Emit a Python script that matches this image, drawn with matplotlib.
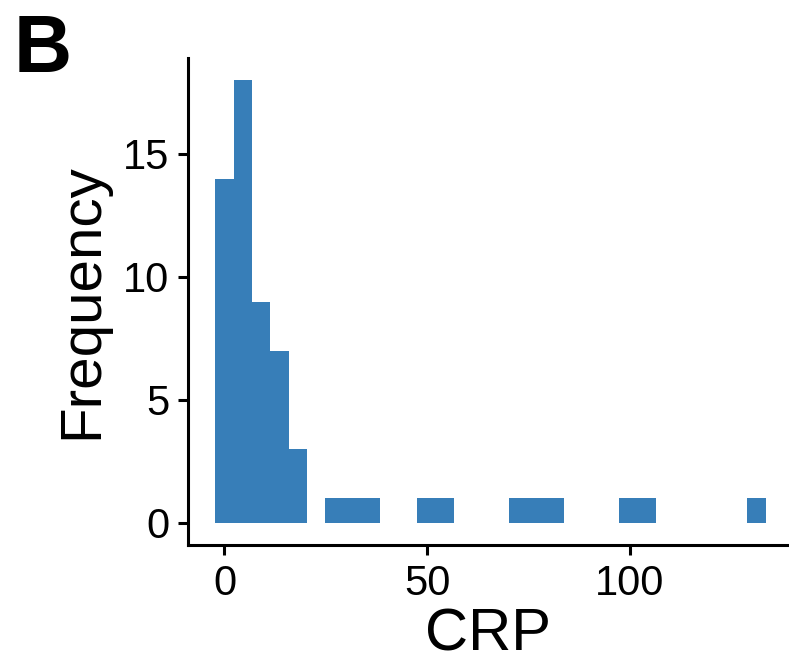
import numpy as np
import matplotlib
matplotlib.use("Agg")
import matplotlib.pyplot as plt

plt.rcParams['font.family'] = ['Liberation Sans', 'DejaVu Sans']

# histogram of CRP, 30 bins (counts per bin)
crp_min, crp_max = 0.0, 131.2
counts = [14, 18, 9, 7, 3, 0, 1, 1, 1, 0,
          0, 1, 1, 0, 0, 0, 1, 1, 1, 0,
          0, 0, 1, 1, 0, 0, 0, 0, 0, 1]
x_ticks = [0, 50, 100]
y_ticks = [0, 5, 10, 15]

n_bins = len(counts)
bw = (crp_max - crp_min) / (n_bins - 1)
edges = crp_min - bw / 2 + bw * np.arange(n_bins)

fig = plt.figure(figsize=(7.89, 6.67), dpi=100)
ax = fig.add_axes([188 / 789, 122 / 667, 601 / 789, 487 / 667])

ax.bar(edges, counts, width=bw, align='edge', color='#377EB8', linewidth=0)

ax.set_xlim(-9.0, 139.2)
ax.set_ylim(-0.9, 18.9)
ax.set_xticks(x_ticks)
ax.set_yticks(y_ticks)

for s in ['top', 'right']:
    ax.spines[s].set_visible(False)
for s in ['left', 'bottom']:
    ax.spines[s].set_linewidth(2.2)
ax.tick_params(width=2.2, length=7.5, labelsize=30, color='black', pad=6)

ax.set_xlabel('CRP', fontsize=43, labelpad=3)
ax.set_ylabel('Frequency', fontsize=42, labelpad=10)

fig.text(14 / 789, 1 - 72 / 667, 'B', fontsize=58, fontweight='bold', ha='left', va='baseline')

fig.savefig('out.png', dpi=100)
